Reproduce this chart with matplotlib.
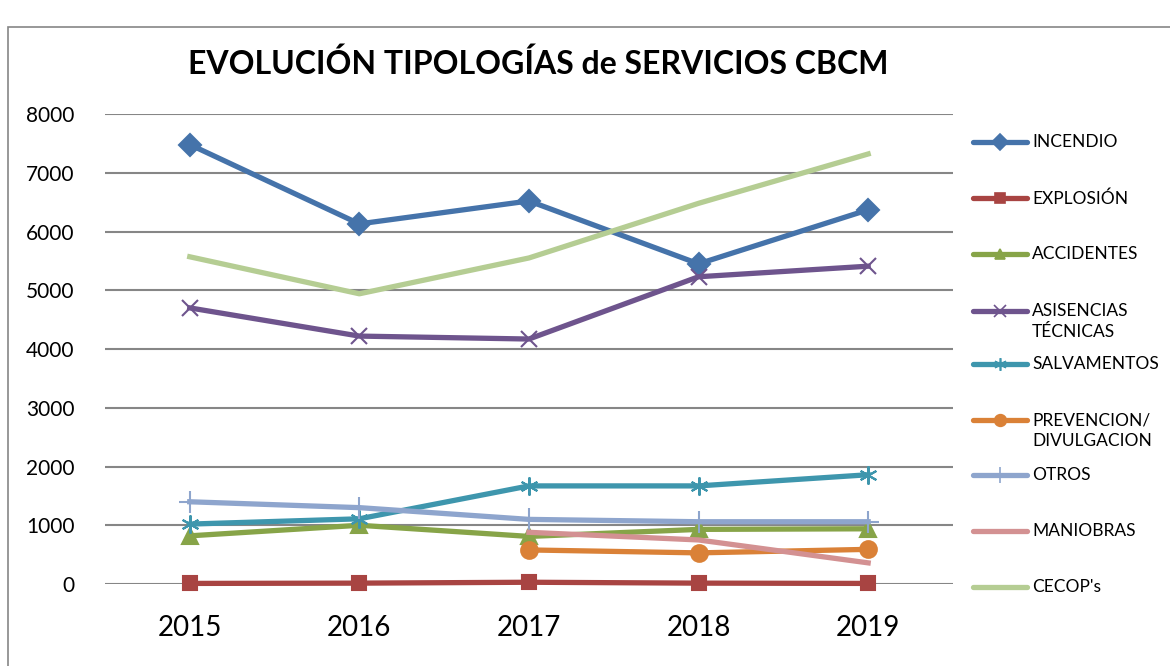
import matplotlib.pyplot as plt
from matplotlib.lines import Line2D
from matplotlib.patches import Rectangle

plt.rcParams["font.family"] = ["Lato", "DejaVu Sans"]

# datos
anios = ["2015", "2016", "2017", "2018", "2019"]
incendio = [7480, 6130, 6520, 5450, 6370]
explosion = [10, 15, 30, 15, 10]
accidentes = [820, 1000, 810, 930, 940]
asistencias = [4700, 4220, 4170, 5230, 5410]
salvamentos = [1020, 1110, 1670, 1670, 1860]
prevencion = [None, None, 580, 530, 590]
otros = [1400, 1300, 1100, 1060, 1060]
maniobras = [None, None, 880, 750, 360]
cecop = [5570, 4940, 5550, 6480, 7320]

etiquetas = ["INCENDIO", "EXPLOSIÓN", "ACCIDENTES", "ASISENCIAS\nTÉCNICAS",
             "SALVAMENTOS", "PREVENCION/\nDIVULGACION", "OTROS", "MANIOBRAS", "CECOP's"]
colores = ["#4573AA", "#A84442", "#87A448", "#6E548D", "#3E96AD",
           "#DA8137", "#8EA5CD", "#D39192", "#B5CD93"]
marcadores = ["D", "s", "^", "x", (6, 2, 0), "o", "+", "", ""]
tamanos = [11, 10.5, 11, 12, 13, 12, 16, 0, 0]
series = [incendio, explosion, accidentes, asistencias, salvamentos,
          prevencion, otros, maniobras, cecop]

fig = plt.figure(figsize=(11.7, 6.66), dpi=100)
ax = fig.add_axes([0.0897, 0.1231, 0.7248, 0.7057])

x = list(range(len(anios)))
lineas = []
for serie, col, mk, ms in zip(series, colores, marcadores, tamanos):
    xs = [i for i, v in zip(x, serie) if v is not None]
    ys = [v for v in serie if v is not None]
    ln, = ax.plot(xs, ys, color=col, lw=3.8, marker=mk, markersize=ms,
                  markeredgewidth=1.5, markeredgecolor=col, markerfacecolor=col,
                  solid_joinstyle="round", zorder=3, clip_on=False)
    lineas.append(ln)

ax.set_xlim(-0.5, 4.5)
ax.set_ylim(0, 8000)
ax.set_yticks(range(0, 8001, 1000))
ax.set_xticks(x)
ax.set_xticklabels(anios, fontsize=20)
ax.tick_params(axis="y", labelsize=15, length=0, pad=22)
ax.tick_params(axis="x", length=0, pad=22)
ax.grid(axis="y", color="#868686", lw=1.5)
ax.set_axisbelow(True)
for s in ax.spines.values():
    s.set_visible(False)

fig.text(0.46, 0.905, "EVOLUCIÓN TIPOLOGÍAS de SERVICIOS CBCM",
         ha="center", va="center", fontsize=23, fontweight="bold")

# leyenda manual a la derecha
ys_ley = [142, 198, 254, 311, 364, 420, 475, 531, 587]
for ln, lab, yp in zip(lineas, etiquetas, ys_ley):
    yf = 1 - yp / 666
    fig.add_artist(Line2D([973 / 1170, 1027 / 1170], [yf, yf], color=ln.get_color(),
                          lw=3.8, solid_capstyle="round"))
    if ln.get_marker() not in ("", "None", None):
        fig.add_artist(Line2D([1000 / 1170], [yf], marker=ln.get_marker(),
                              markersize=ln.get_markersize() * 0.7,
                              color=ln.get_color(), markeredgewidth=1.2))
    fig.text(1032 / 1170, yf + 8 / 666, lab, ha="left", va="top",
             fontsize=12.5, linespacing=1.4)

# marco del grafico
fig.add_artist(Rectangle((8 / 1170, -0.1), 1.2, 1 - 27 / 666 + 0.1,
                         transform=fig.transFigure, fill=False,
                         edgecolor="#868686", lw=1.2))

fig.savefig("out.png", dpi=100)
